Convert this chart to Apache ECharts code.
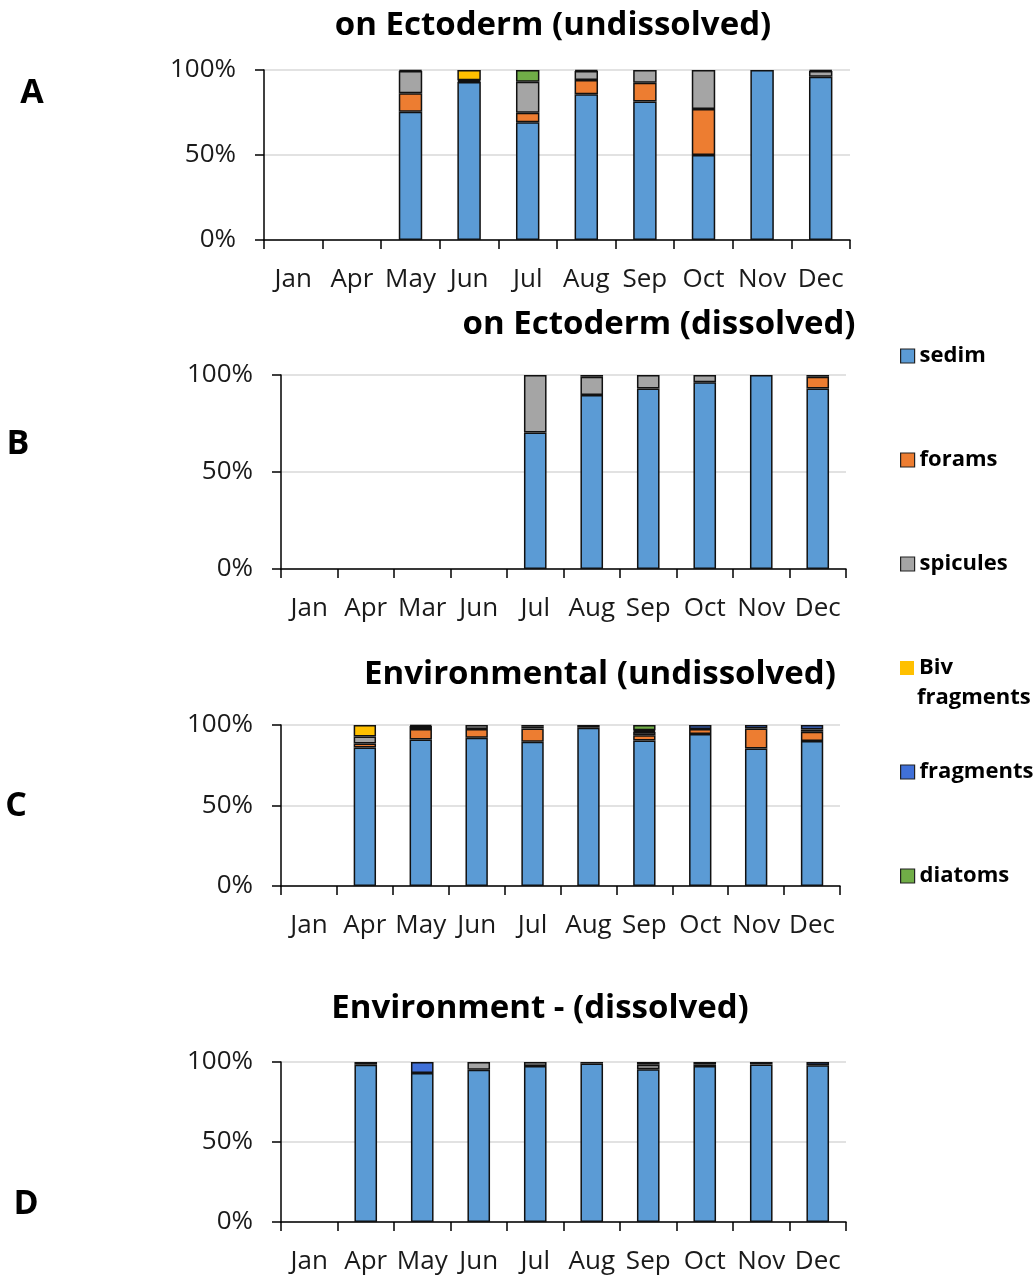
<!DOCTYPE html>
<html lang="en">

<head>
    <meta charset="UTF-8">
    <title>sediment composition</title>
    <script src="https://cdn.jsdelivr.net/npm/echarts@6.0.0/dist/echarts.min.js"></script>
    <style>
        html, body { margin: 0; padding: 0; background: #fff; }
        #main { width: 1036px; height: 1280px; }
    </style>
</head>

<body>
    <div id="main"></div>
</body>

<script>
    // categories per panel
    const monthsA = ['Jan', 'Apr', 'May', 'Jun', 'Jul', 'Aug', 'Sep', 'Oct', 'Nov', 'Dec'];
    const monthsB = ['Jan', 'Apr', 'Mar', 'Jun', 'Jul', 'Aug', 'Sep', 'Oct', 'Nov', 'Dec'];
    const monthsC = ['Jan', 'Apr', 'May', 'Jun', 'Jul', 'Aug', 'Sep', 'Oct', 'Nov', 'Dec'];
    const monthsD = ['Jan', 'Apr', 'May', 'Jun', 'Jul', 'Aug', 'Sep', 'Oct', 'Nov', 'Dec'];

    const names = ['sedim', 'forams', 'spicules', 'Biv fragments', 'fragments', 'diatoms'];
    const colors = ['#5b9bd5', '#ed7d31', '#a5a5a5', '#ffc000', '#4070d8', '#70ad47'];

    // A - on Ectoderm (undissolved), %
    const sedimA = [null, null, 75.5, 93, 69.2, 85.7, 81.4, 50, 100, 96.1];
    const foramsA = [null, null, 10.8, 0.5, 5.7, 8.4, 11.1, 27.1, null, null];
    const spiculesA = [null, null, 13.1, 0.5, 18.2, 5.3, 7.5, 22.9, null, 3.3];
    const bivA = [null, null, null, 6, null, 0.6, null, null, null, null];
    const fragmentsA = [null, null, 0.6, null, null, null, null, null, null, 0.6];
    const diatomsA = [null, null, null, null, 6.9, null, null, null, null, null];

    // B - on Ectoderm (dissolved)
    const sedimB = [null, null, null, null, 70.4, 89.7, 93, 96.2, 100, 93];
    const foramsB = [null, null, null, null, null, null, null, null, null, 6.1];
    const spiculesB = [null, null, null, null, 29.6, 9.4, 7, 3.8, null, null];
    const bivB = [null, null, null, null, null, null, null, null, null, null];
    const fragmentsB = [null, null, null, null, null, 0.9, null, null, null, 0.9];
    const diatomsB = [null, null, null, null, null, null, null, null, null, null];

    // C - Environmental (undissolved)
    const sedimC = [null, 86, 91, 92.1, 89.6, 98.3, 90.4, 94.4, 85.4, 90];
    const foramsC = [null, 2.5, 6.5, 5.4, 8.3, 1.7, 3.3, 3.1, 12.5, 5.8];
    const spiculesC = [null, 4.4, 1.9, 2.5, 1.0, null, 2.0, null, null, 1.5];
    const bivC = [null, 7.1, null, null, null, null, 0.5, null, null, null];
    const fragmentsC = [null, null, 0.6, null, 1.1, null, 0.5, 2.5, 2.1, 2.7];
    const diatomsC = [null, null, null, null, null, null, 3.3, null, null, null];

    // D - Environment - (dissolved)
    const sedimD = [null, 98.3, 93.1, 95.2, 97.5, 99, 95.4, 97.5, 98.5, 97.9];
    const foramsD = [null, null, null, null, null, null, null, 1.0, null, null];
    const spiculesD = [null, null, null, 4.8, 2.5, null, 2.9, null, null, null];
    const bivD = [null, null, null, null, null, null, null, null, null, null];
    const fragmentsD = [null, 1.7, 6.9, null, null, 1.0, 1.7, 1.5, 1.5, 2.1];
    const diatomsD = [null, null, null, null, null, null, null, null, null, null];

    const yTicks = [0, 50, 100];

    const panels = [
        { months: monthsA, data: [sedimA, foramsA, spiculesA, bivA, fragmentsA, diatomsA], grid: { left: 264, top: 70, width: 586, height: 170 } },
        { months: monthsB, data: [sedimB, foramsB, spiculesB, bivB, fragmentsB, diatomsB], grid: { left: 281, top: 375, width: 565, height: 194 } },
        { months: monthsC, data: [sedimC, foramsC, spiculesC, bivC, fragmentsC, diatomsC], grid: { left: 281, top: 725, width: 559, height: 161 } },
        { months: monthsD, data: [sedimD, foramsD, spiculesD, bivD, fragmentsD, diatomsD], grid: { left: 281, top: 1062, width: 565, height: 160 } }
    ];

    const font = "'Open Sans', 'Noto Sans', sans-serif";
    const textColor = '#1a1a1a';

    function buildOption() {
        let grid = [], xAxis = [], yAxis = [], series = [];
        panels.forEach(function (p, i) {
            grid.push(p.grid);
            xAxis.push({
                type: 'category', gridIndex: i, data: p.months,
                axisLine: { lineStyle: { color: '#000', width: 1.5 } },
                axisTick: { show: true, length: 9, interval: 0, lineStyle: { color: '#000', width: 1.5 } },
                axisLabel: { interval: 0, margin: 27, fontSize: 26, fontFamily: font, color: textColor }
            });
            yAxis.push({
                type: 'value', gridIndex: i, min: yTicks[0], max: yTicks[2], interval: yTicks[1] - yTicks[0],
                axisLine: { show: true, lineStyle: { color: '#000', width: 1.5 } },
                axisTick: { show: true, length: 9, lineStyle: { color: '#000', width: 1.5 } },
                axisLabel: { margin: 28, fontSize: 26, fontFamily: font, color: textColor, formatter: '{value}%' },
                splitLine: { lineStyle: { color: '#d9d9d9', width: 1.5 } }
            });
            names.forEach(function (n, k) {
                series.push({
                    type: 'bar', name: n, stack: 'p' + i, xAxisIndex: i, yAxisIndex: i,
                    data: p.data[k], barWidth: '40%',
                    itemStyle: { color: colors[k], borderColor: '#111', borderWidth: 1.5 }
                });
            });
        });

        // one legend per item so the spacing follows the reference
        const legendTops = [354, 458, 562, 666, 770, 874];
        let legend = names.map(function (n, k) {
            return {
                data: [n], orient: 'vertical', left: 895, top: legendTops[k] - 16,
                selectedMode: false, icon: 'rect', itemWidth: 14, itemHeight: 14, itemGap: 0,
                formatter: n === 'Biv fragments' ? 'Biv' : '{name}',
                itemStyle: n === 'Biv fragments' ? { borderWidth: 0 } : { borderColor: '#222', borderWidth: 1.2 },
                textStyle: { fontSize: 22, fontWeight: 'bold', fontFamily: font, color: '#000', lineHeight: 26 }
            };
        });

        function label(text, x, y, size) {
            return {
                type: 'text', x: x, y: y,
                style: { text: text, font: 'bold ' + size + 'px ' + font, fill: '#000', textAlign: 'center', textVerticalAlign: 'middle' }
            };
        }

        let graphic = [
            label('on Ectoderm (undissolved)', 553, 26, 33),
            label('on Ectoderm (dissolved)', 659, 325, 33),
            label('Environmental (undissolved)', 600, 675, 33),
            label('Environment - (dissolved)', 540, 1009, 33),
            label('A', 32, 93, 34),
            label('B', 18, 444, 34),
            label('C', 16, 806, 34),
            label('D', 26, 1204, 34),
            {
                type: 'text', x: 917, y: 698,
                style: { text: 'fragments', font: 'bold 22px ' + font, fill: '#000', textAlign: 'left', textVerticalAlign: 'middle' }
            }
        ];

        return { animation: false, grid: grid, xAxis: xAxis, yAxis: yAxis, series: series, legend: legend, graphic: graphic };
    }

    function initChart() {
        let myChart = echarts.init(document.getElementById('main'));
        myChart.setOption(buildOption());
        window.onresize = function () {
            myChart.resize();
        };
    }

    initChart();
</script>

</html>
